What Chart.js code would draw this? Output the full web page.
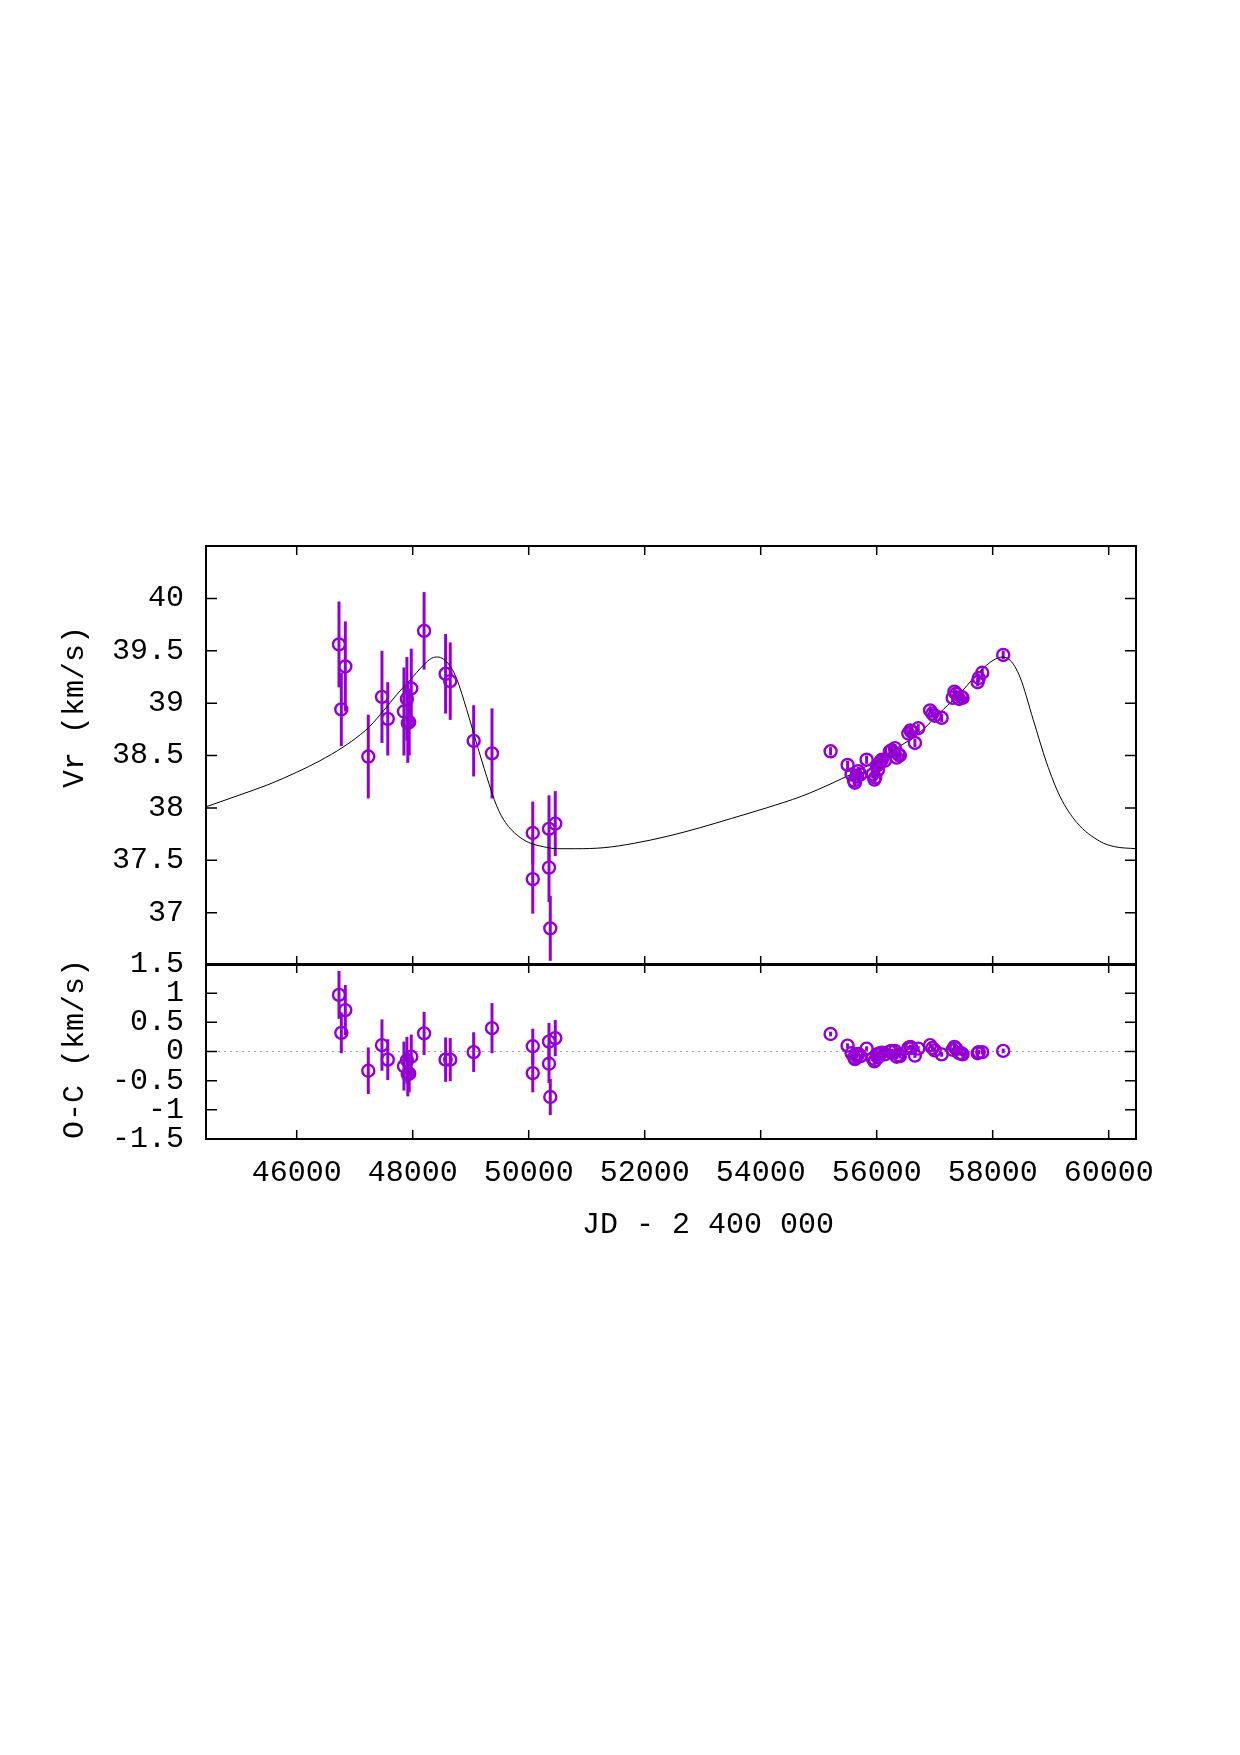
<!DOCTYPE html>
<html>
<head>
<meta charset="utf-8">
<title>Vr and O-C</title>
<script src="https://cdn.jsdelivr.net/npm/chart.js@4.4.1/dist/chart.umd.min.js"></script>
<style>
  body { margin: 0; background: #fff; }
  #wrap { position: relative; width: 1240px; height: 1755px; }
  canvas { position: absolute; left: 0; top: 0; }
</style>
</head>
<body>
<div id="wrap">
  <canvas id="vrChart" width="1240" height="1755"></canvas>
  <canvas id="ocChart" width="1240" height="1755"></canvas>
</div>
<script>
// old measurements (large errors)
const jdOld  = [46729, 46769, 46838, 47234, 47470, 47570, 47849, 47900, 47915, 47940, 47975, 48196, 48567, 48647, 49051, 49367, 50070, 50070, 50350, 50350, 50372, 50458];
const vrOld  = [39.56, 38.94, 39.35, 38.49, 39.06, 38.85, 38.92, 39.04, 38.81, 38.82, 39.14, 39.69, 39.28, 39.21, 38.64, 38.52, 37.76, 37.32, 37.80, 37.43, 36.85, 37.85];
const errOld = [0.41, 0.35, 0.43, 0.40, 0.44, 0.35, 0.42, 0.40, 0.38, 0.32, 0.38, 0.37, 0.38, 0.37, 0.34, 0.43, 0.30, 0.33, 0.32, 0.33, 0.31, 0.31];
const ocOld  = [0.97, 0.32, 0.71, -0.33, 0.11, -0.14, -0.25, -0.15, -0.39, -0.38, -0.09, 0.31, -0.14, -0.14, -0.01, 0.40, 0.09, -0.37, 0.17, -0.21, -0.78, 0.23];

// recent measurements (small errors)
const jdNew  = [55205, 55498, 55567, 55610, 55625, 55660, 55682, 55720, 55826, 55930, 55960, 55975, 56000, 56020, 56040, 56060, 56090, 56140, 56228, 56260, 56315, 56344, 56372, 56400, 56544, 56580, 56600, 56659, 56717, 56920, 56960, 57000, 57120, 57310, 57340, 57370, 57420, 57460, 57480, 57740, 57760, 57820, 58181];
const vrNew  = [38.54, 38.41, 38.32, 38.26, 38.24, 38.30, 38.35, 38.32, 38.46, 38.32, 38.27, 38.29, 38.40, 38.36, 38.42, 38.44, 38.46, 38.45, 38.54, 38.55, 38.57, 38.48, 38.51, 38.50, 38.71, 38.74, 38.73, 38.62, 38.76, 38.93, 38.90, 38.88, 38.86, 39.05, 39.11, 39.09, 39.04, 39.06, 39.05, 39.20, 39.24, 39.29, 39.46];
const ocNew  = [0.30, 0.10, -0.03, -0.10, -0.13, -0.08, -0.04, -0.08, 0.05, -0.12, -0.17, -0.15, -0.05, -0.10, -0.04, -0.03, -0.02, -0.05, 0.00, 0.01, 0.01, -0.09, -0.06, -0.08, 0.06, 0.08, 0.06, -0.07, 0.05, 0.11, 0.06, 0.02, -0.05, 0.03, 0.08, 0.05, -0.03, -0.03, -0.05, -0.03, -0.01, -0.01, 0.01];
const errNew = jdNew.map(() => 0.04);

// orbit fit
const curveJd = [44436, 45000, 45500, 46000, 46400, 46800, 47100, 47263, 47500, 47723, 47953, 48182, 48330, 48430, 48530, 48650, 48760, 48930, 49100, 49275, 49447, 49600, 49800, 50000, 50250, 50500, 50800, 51300, 51800, 52400, 52950, 53500, 54100, 54700, 55250, 55830, 56400, 56700, 57150, 57450, 57670, 57850, 58010, 58160, 58300, 58470, 58700, 58930, 59160, 59450, 59850, 60100, 60471];
const curveVr = [38.01, 38.12, 38.22, 38.34, 38.45, 38.58, 38.70, 38.78, 38.93, 39.08, 39.22, 39.36, 39.43, 39.44, 39.42, 39.35, 39.23, 38.94, 38.62, 38.30, 38.02, 37.86, 37.74, 37.67, 37.63, 37.61, 37.61, 37.62, 37.66, 37.73, 37.81, 37.90, 38.00, 38.11, 38.24, 38.40, 38.59, 38.70, 38.94, 39.10, 39.24, 39.34, 39.41, 39.44, 39.41, 39.25, 38.84, 38.43, 38.11, 37.86, 37.68, 37.63, 37.61];

// axes
const xTicks = [46000, 48000, 50000, 52000, 54000, 56000, 58000, 60000];
const vrTicks = [37, 37.5, 38, 38.5, 39, 39.5, 40];
const ocTicks = [-1.5, -1, -0.5, 0, 0.5, 1, 1.5];
const X_MIN = 44436, X_MAX = 60471;

const PURPLE = '#9400d3';
const FONT = { family: '"Liberation Mono", "Courier New", monospace', size: 30 };

function pts(xs, ys) {
    return xs.map((x, i) => ({ x: x, y: ys[i] }));
}

function pointSet(xs, ys, errs) {
    return {
        type: 'scatter',
        data: pts(xs, ys),
        errors: errs,
        pointStyle: 'circle',
        pointRadius: 6,
        pointHoverRadius: 6,
        borderWidth: 2.4,
        borderColor: PURPLE,
        backgroundColor: 'rgba(0,0,0,0)'
    };
}

// error bars, frame, inward ticks and titles
const plotDecor = {
    id: 'plotDecor',
    beforeDatasetsDraw(chart) {
        const ctx = chart.ctx;
        const x = chart.scales.x, y = chart.scales.y;
        const area = chart.chartArea;
        ctx.save();
        if (chart.options.plugins.plotDecor.zeroLine) {
            const yz = y.getPixelForValue(0);
            ctx.strokeStyle = '#a0a0a0';
            ctx.lineWidth = 1;
            ctx.setLineDash([2, 4]);
            ctx.beginPath();
            ctx.moveTo(area.left, yz);
            ctx.lineTo(area.right, yz);
            ctx.stroke();
            ctx.setLineDash([]);
        }
        ctx.strokeStyle = PURPLE;
        ctx.lineWidth = 3;
        chart.data.datasets.forEach(ds => {
            if (!ds.errors) return;
            ds.data.forEach((p, i) => {
                const px = x.getPixelForValue(p.x);
                ctx.beginPath();
                ctx.moveTo(px, y.getPixelForValue(p.y - ds.errors[i]));
                ctx.lineTo(px, y.getPixelForValue(p.y + ds.errors[i]));
                ctx.stroke();
            });
        });
        ctx.restore();
    },
    afterDraw(chart) {
        const ctx = chart.ctx;
        const opts = chart.options.plugins.plotDecor;
        const x = chart.scales.x, y = chart.scales.y;
        const a = chart.chartArea;
        ctx.save();
        ctx.strokeStyle = '#000';
        ctx.lineWidth = 1.5;
        ctx.beginPath();
        x.ticks.forEach(t => {
            const px = x.getPixelForValue(t.value);
            ctx.moveTo(px, a.top); ctx.lineTo(px, a.top + 9);
            ctx.moveTo(px, a.bottom); ctx.lineTo(px, a.bottom - 9);
        });
        y.ticks.forEach(t => {
            const py = y.getPixelForValue(t.value);
            ctx.moveTo(a.left, py); ctx.lineTo(a.left + 11, py);
            ctx.moveTo(a.right, py); ctx.lineTo(a.right - 11, py);
        });
        ctx.stroke();
        ctx.lineWidth = 2;
        ctx.strokeRect(a.left, a.top, a.right - a.left, a.bottom - a.top);

        ctx.fillStyle = '#000';
        ctx.font = FONT.size + 'px ' + FONT.family;
        ctx.textAlign = 'center';
        ctx.textBaseline = 'middle';
        (opts.titles || []).forEach(t => {
            ctx.save();
            ctx.translate(t.x, t.y);
            ctx.rotate(t.rot || 0);
            ctx.fillText(t.text, 0, 0);
            ctx.restore();
        });
        ctx.restore();
    }
};

function baseOptions(yMin, yMax, yTickList, xLabels) {
    return {
        responsive: false,
        animation: false,
        devicePixelRatio: 1,
        events: [],
        plugins: { legend: { display: false }, tooltip: { enabled: false } },
        scales: {
            x: {
                type: 'linear',
                min: X_MIN,
                max: X_MAX,
                afterBuildTicks: s => { s.ticks = xTicks.map(v => ({ value: v })); },
                afterFit: s => { s.height = xLabels ? 60 : 0; },
                grid: { display: false, drawTicks: false },
                border: { display: false },
                ticks: {
                    display: xLabels,
                    autoSkip: false,
                    maxRotation: 0,
                    padding: 16,
                    color: '#000',
                    font: FONT,
                    callback: v => String(v)
                }
            },
            y: {
                type: 'linear',
                min: yMin,
                max: yMax,
                afterBuildTicks: s => { s.ticks = yTickList.map(v => ({ value: v })); },
                afterFit: s => { s.width = 150; },
                grid: { display: false, drawTicks: false },
                border: { display: false },
                ticks: {
                    autoSkip: false,
                    padding: 22,
                    color: '#000',
                    font: FONT,
                    callback: v => String(v)
                }
            }
        }
    };
}

// top panel: radial velocity
const vrOptions = baseOptions(36.5, 40.5, vrTicks, false);
vrOptions.layout = { padding: { left: 56, top: 546, right: 104, bottom: 790 } };
vrOptions.plugins.plotDecor = {
    titles: [{ text: 'Vr (km/s)', x: 75, y: 707, rot: -Math.PI / 2 }]
};

new Chart(document.getElementById('vrChart'), {
    type: 'scatter',
    data: {
        datasets: [
            pointSet(jdOld, vrOld, errOld),
            pointSet(jdNew, vrNew, errNew),
            {
                type: 'line',
                data: pts(curveJd, curveVr),
                borderColor: '#000',
                borderWidth: 1,
                pointRadius: 0,
                cubicInterpolationMode: 'monotone',
                fill: false
            }
        ]
    },
    options: vrOptions,
    plugins: [plotDecor]
});

// bottom panel: residuals
const ocOptions = baseOptions(-1.5, 1.5, ocTicks, true);
ocOptions.layout = { padding: { left: 56, top: 964, right: 104, bottom: 1755 - 1139 - 60 } };
ocOptions.plugins.plotDecor = {
    zeroLine: true,
    titles: [
        { text: 'O-C (km/s)', x: 75, y: 1049, rot: -Math.PI / 2 },
        { text: 'JD - 2 400 000', x: 708, y: 1225 }
    ]
};

new Chart(document.getElementById('ocChart'), {
    type: 'scatter',
    data: {
        datasets: [
            pointSet(jdOld, ocOld, errOld),
            pointSet(jdNew, ocNew, errNew)
        ]
    },
    options: ocOptions,
    plugins: [plotDecor]
});
</script>
</body>
</html>
